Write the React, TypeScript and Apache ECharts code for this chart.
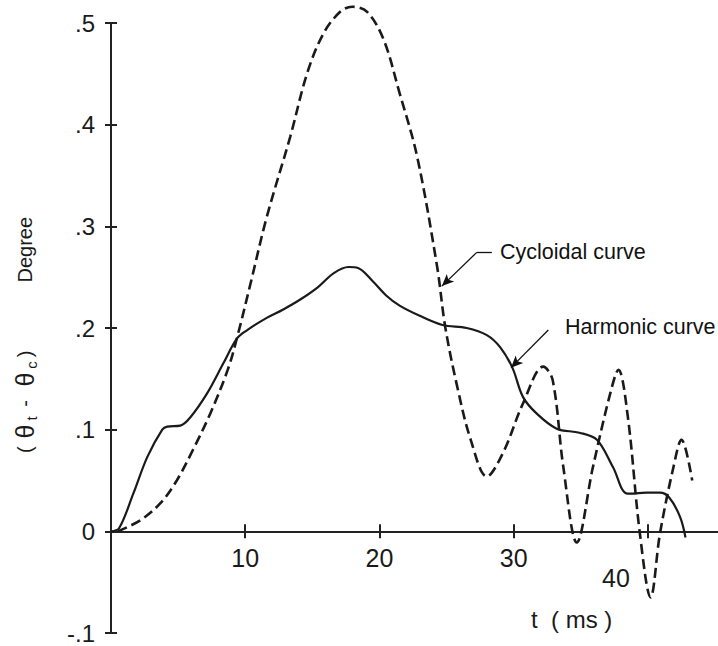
import React, { useEffect, useRef } from 'react';
import * as echarts from 'echarts';

// Cycloidal curve (dashed)
const tCyc = [0.5, 2.2, 3.7, 4.9, 6.1, 7.4, 8.7, 9.4, 10.4, 11.6, 13.35, 14.6, 15.8, 17.07, 17.97, 19.08, 20.3, 21.5, 22.8, 24.3, 24.9, 25.8, 26.8, 28.0, 29.2, 30.7, 32.2, 32.9, 33.7, 34.7, 35.9, 37.2, 37.8, 38.5, 39.4, 40.2, 40.9, 41.9, 42.5, 43.3];
const vCyc = [0.0, 0.011, 0.028, 0.05, 0.08, 0.116, 0.159, 0.191, 0.244, 0.309, 0.388, 0.45, 0.489, 0.511, 0.516, 0.511, 0.484, 0.431, 0.369, 0.26, 0.201, 0.142, 0.09, 0.054, 0.077, 0.126, 0.162, 0.149, 0.063, -0.011, 0.063, 0.136, 0.159, 0.113, -0.002, -0.065, -0.002, 0.063, 0.09, 0.05];

// Harmonic curve (solid)
const tHarm = [0, 0.6, 1.66, 2.7, 3.82, 4.19, 5.16, 5.9, 7.17, 8.36, 9.4, 10.15, 11.6, 12.8, 14.1, 15.4, 16.6, 17.7, 18.4, 19.5, 20.5, 21.5, 23.0, 24.7, 26.5, 28.0, 29.0, 29.9, 30.7, 31.7, 33.2, 34.9, 36.2, 37.4, 38.5, 39.9, 40.9, 41.6, 42.4, 42.8];
const vHarm = [0, 0.003, 0.037, 0.073, 0.1, 0.103, 0.104, 0.112, 0.136, 0.165, 0.19, 0.198, 0.21, 0.218, 0.228, 0.24, 0.254, 0.26, 0.259, 0.246, 0.232, 0.222, 0.212, 0.203, 0.2, 0.193, 0.181, 0.161, 0.132, 0.116, 0.101, 0.097, 0.09, 0.063, 0.037, 0.038, 0.038, 0.033, 0.014, -0.006];

const xLabelValues = [10, 20, 30];
const xStep = 10;
const xMin = 0;
const xMax = 45.37;
const yMin = -0.1;
const yMax = 0.5;
const yStep = 0.1;

// annotation arrows in data coordinates
const cycArrow = { start: [28.37, 0.2744], elbow: [27.25, 0.2744], tip: [24.65, 0.2412] };
const harmArrow = { start: [32.58, 0.198], tip: [29.8, 0.161] };

const INK = '#1a1a1a';
const FONT = 'Liberation Sans, Arial, sans-serif';

const GRID_TOP = 23;
const GRID_H = 610;

export default function App() {
  const ref = useRef<HTMLDivElement>(null);
  useEffect(() => {
    const chart = echarts.init(ref.current as HTMLDivElement, null, { renderer: 'svg' });
    const yFmt = (v: number) => {
      if (Math.abs(v) < 1e-9) return '0';
      return v.toFixed(1).replace('0.', '.');
    };
    const xFmt = (v: number) => (xLabelValues.some((x) => Math.abs(x - v) < 1e-6) ? String(Math.round(v)) : '');
    // shift the x axis up from the grid bottom to the value 0
    const zeroOffset = -GRID_H * ((0 - yMin) / (yMax - yMin));
    const baseX = {
      type: 'value',
      min: xMin,
      max: xMax,
      interval: xStep,
      position: 'bottom',
      offset: zeroOffset,
      splitLine: { show: false },
      axisLine: { show: true, onZero: false, lineStyle: { color: '#222', width: 2 } },
    };
    const baseY = {
      type: 'value',
      min: yMin,
      max: yMax,
      interval: yStep,
      position: 'left',
      splitLine: { show: false },
      axisLine: { show: true, onZero: false, lineStyle: { color: '#222', width: 2 } },
    };
    const option: any = {
      animation: false,
      backgroundColor: '#fff',
      grid: { left: 111, top: GRID_TOP, width: 609, height: GRID_H, containLabel: false, outerBoundsMode: 'none' },
      xAxis: [
        {
          ...baseX,
          axisTick: { show: true, inside: false, length: 7, lineStyle: { color: '#222', width: 2 } },
          axisLabel: { formatter: xFmt, fontSize: 25, color: INK, fontFamily: FONT, margin: 14, showMinLabel: true, showMaxLabel: true },
        },
        {
          ...baseX,
          axisTick: { show: true, inside: true, length: 7, lineStyle: { color: '#222', width: 2 } },
          axisLabel: { show: false },
        },
      ],
      yAxis: [
        {
          ...baseY,
          axisTick: { show: true, inside: false, length: 6, lineStyle: { color: '#222', width: 2 } },
          axisLabel: { formatter: yFmt, fontSize: 24, color: INK, fontFamily: FONT, margin: 16 },
          name: '{p|(}{th|θ}{s|t}{p| - }{th|θ}{s|c}{p|)}{gap|}{p|Degree}{pad|}',
          nameLocation: 'middle',
          nameRotate: 90,
          nameGap: 72,
          nameTextStyle: {
            rich: {
              p: { fontSize: 20, color: INK, fontFamily: FONT, lineHeight: 28, padding: [0, 4, 0, 4] },
              th: { fontSize: 25, color: INK, fontFamily: FONT, lineHeight: 28, padding: [0, 4, 0, 4] },
              s: { fontSize: 15, color: INK, fontFamily: FONT, lineHeight: 28, verticalAlign: 'bottom', padding: [9, 0, 0, 0] },
              gap: { width: 60, lineHeight: 28 },
              pad: { width: 14, lineHeight: 28 },
            },
          },
        },
        {
          ...baseY,
          axisTick: { show: true, inside: true, length: 6, lineStyle: { color: '#222', width: 2 } },
          axisLabel: { show: false },
        },
      ],
      series: [
        {
          name: 'Cycloidal curve',
          type: 'line',
          xAxisIndex: 0,
          yAxisIndex: 0,
          data: tCyc.map((t, i) => [t, vCyc[i]]),
          smooth: 0.35,
          symbol: 'none',
          clip: false,
          lineStyle: { color: INK, width: 2.6, type: [10, 5] },
          markLine: {
            silent: true,
            animation: false,
            symbol: ['none', 'arrow'],
            symbolSize: [8, 12],
            label: { show: false },
            lineStyle: { color: '#111', width: 1.3, type: 'solid' },
            data: [
              [{ coord: cycArrow.start, symbol: 'none' }, { coord: cycArrow.elbow, symbol: 'none' }],
              [{ coord: cycArrow.elbow, symbol: 'none' }, { coord: cycArrow.tip, symbol: 'arrow' }],
              [{ coord: harmArrow.start, symbol: 'none' }, { coord: harmArrow.tip, symbol: 'arrow' }],
            ],
          },
        },
        {
          name: 'Harmonic curve',
          type: 'line',
          xAxisIndex: 0,
          yAxisIndex: 0,
          data: tHarm.map((t, i) => [t, vHarm[i]]),
          smooth: 0.35,
          symbol: 'none',
          clip: false,
          lineStyle: { color: INK, width: 2.2, type: 'solid' },
        },
      ],
      graphic: [
        { type: 'text', left: 500, top: 241, style: { text: 'Cycloidal curve', font: '21.5px ' + FONT, fill: '#111' } },
        { type: 'text', left: 565, top: 316, style: { text: 'Harmonic curve', font: '21.5px ' + FONT, fill: '#111' } },
        { type: 'text', left: 602, top: 565, style: { text: '40', font: '25px ' + FONT, fill: INK } },
        { type: 'text', left: 531, top: 607, style: { text: 't  ( ms )', font: '24px ' + FONT, fill: INK } },
      ],
    };
    chart.setOption(option);
    return () => chart.dispose();
  }, []);
  return (
    <div
      ref={ref}
      style={{ position: 'fixed', left: 0, top: 0, width: 718, height: 646, background: '#fff' }}
    />
  );
}
